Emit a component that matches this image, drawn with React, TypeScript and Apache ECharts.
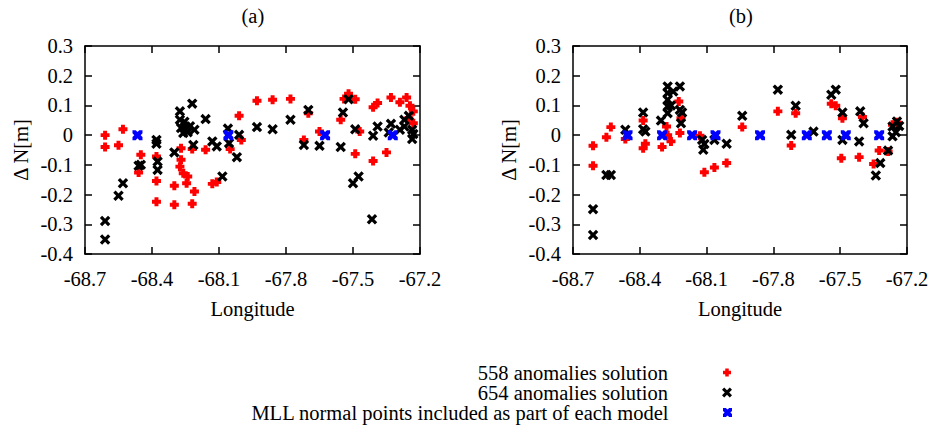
import React, { useEffect, useRef } from "react";
import * as echarts from "echarts";

// ---------- data ----------
const xTicks = ["-68.7", "-68.4", "-68.1", "-67.8", "-67.5", "-67.2"];
const yTicks = ["-0.4", "-0.3", "-0.2", "-0.1", "0", "0.1", "0.2", "0.3"];
const panelTitles = ["(a)", "(b)"];
const seriesNames = [
  "558 anomalies solution",
  "654 anomalies solution",
  "MLL normal points included as part of each model",
];

// panel (a) — 558 anomalies solution
const a558Lon = [-68.61, -68.61, -68.55, -68.53, -68.45, -68.46, -68.38, -68.38, -68.38, -68.3, -68.3, -68.27, -68.27, -68.275, -68.26, -68.24, -68.245, -68.22, -68.21, -68.22, -68.16, -68.13, -68.11, -68.05, -68.0, -68.01, -67.93, -67.86, -67.78, -67.7, -67.72, -67.65, -67.555, -67.54, -67.52, -67.49, -67.47, -67.49, -67.41, -67.41, -67.39, -67.35, -67.33, -67.29, -67.26, -67.245, -67.23, -67.23, -67.25];
const a558Dn = [0.0, -0.04, -0.034, 0.02, -0.066, -0.126, -0.072, -0.154, -0.224, -0.17, -0.234, -0.044, -0.083, -0.106, -0.128, -0.139, -0.162, -0.231, -0.19, -0.047, -0.049, -0.164, -0.158, -0.047, -0.016, 0.065, 0.116, 0.119, 0.122, 0.074, -0.016, 0.012, 0.052, 0.122, 0.139, 0.121, 0.012, -0.063, -0.087, 0.094, 0.108, -0.058, 0.127, 0.111, 0.127, 0.099, 0.08, 0.04, 0.057];

// panel (a) — 654 anomalies solution
const a654Lon = [-68.61, -68.61, -68.55, -68.53, -68.46, -68.45, -68.38, -68.38, -68.375, -68.375, -68.3, -68.275, -68.275, -68.27, -68.26, -68.25, -68.255, -68.24, -68.23, -68.22, -68.21, -68.215, -68.16, -68.13, -68.11, -68.085, -68.06, -68.055, -68.01, -68.02, -67.93, -67.86, -67.78, -67.7, -67.72, -67.65, -67.555, -67.545, -67.52, -67.49, -67.5, -67.475, -67.41, -67.415, -67.39, -67.33, -67.34, -67.29, -67.27, -67.25, -67.27, -67.235, -67.235, -67.23];
const a654Dn = [-0.289, -0.351, -0.204, -0.162, -0.103, -0.1, -0.016, -0.029, -0.089, -0.117, -0.058, 0.08, 0.052, 0.024, 0.007, 0.029, 0.045, 0.01, 0.03, 0.106, 0.018, -0.033, 0.054, -0.021, -0.038, -0.139, 0.022, -0.027, 0.001, -0.074, 0.027, 0.02, 0.052, 0.085, -0.033, -0.036, -0.04, 0.076, 0.121, 0.02, -0.162, -0.139, -0.002, -0.283, 0.029, 0.038, 0.009, 0.018, 0.052, 0.065, 0.029, 0.018, -0.013, 0.004];

// panel (a) — MLL normal points
const aMllLon = [-68.465, -68.058, -67.625, -67.322];
const aMllDn = [0, 0, 0, 0];

// panel (b) — 558 anomalies solution
const b558Lon = [-68.61, -68.61, -68.55, -68.53, -68.465, -68.385, -68.385, -68.375, -68.3, -68.28, -68.275, -68.26, -68.225, -68.22, -68.215, -68.13, -68.11, -68.065, -68.01, -67.94, -67.78, -67.72, -67.7, -67.54, -67.52, -67.49, -67.495, -67.415, -67.4, -67.35, -67.325, -67.285, -67.265, -67.245];
const b558Dn = [-0.036, -0.103, -0.007, 0.027, -0.013, 0.049, -0.044, -0.029, -0.04, 0.029, 0.0, -0.021, 0.113, 0.007, 0.057, -0.002, -0.125, -0.109, -0.094, 0.027, 0.08, -0.035, 0.074, 0.106, 0.099, 0.057, -0.078, -0.074, 0.061, -0.097, -0.052, -0.055, 0.035, 0.043];

// panel (b) — 654 anomalies solution
const b654Lon = [-68.61, -68.61, -68.55, -68.53, -68.465, -68.385, -68.385, -68.375, -68.305, -68.275, -68.275, -68.275, -68.275, -68.275, -68.25, -68.22, -68.22, -68.215, -68.21, -68.26, -68.12, -68.115, -68.11, -68.065, -68.01, -67.94, -67.78, -67.72, -67.7, -67.62, -67.54, -67.52, -67.49, -67.49, -67.41, -67.415, -67.395, -67.34, -67.32, -67.285, -67.265, -67.265, -67.245, -67.235, -67.25];
const b654Dn = [-0.249, -0.336, -0.134, -0.134, 0.018, 0.076, 0.02, 0.012, 0.049, 0.164, 0.142, 0.119, 0.097, 0.074, 0.147, 0.164, 0.085, 0.04, 0.076, 0.1, -0.016, -0.049, -0.03, -0.016, -0.029, 0.065, 0.153, 0.001, 0.099, 0.012, 0.136, 0.153, 0.076, -0.016, 0.08, -0.021, 0.04, -0.136, -0.094, -0.052, 0.029, -0.004, 0.046, 0.031, 0.01];

// panel (b) — MLL normal points
const bMllLon = [-68.455, -68.3, -68.165, -68.06, -67.86, -67.65, -67.56, -67.475, -67.325];
const bMllDn = [0, 0, 0, 0, 0, 0, 0, 0, 0];

// ---------- styles ----------
const FONT = "Liberation Serif";
const PLUS = "path://M2.8,0H7.2V2.8H10V7.2H7.2V10H2.8V7.2H0V2.8H2.8Z";
const CROSS = "path://M0,2.2L2.2,0L5,2.8L7.8,0L10,2.2L7.2,5L10,7.8L7.8,10L5,7.2L2.2,10L0,7.8L2.8,5Z";
const BOX = "path://M0,0H3.2L5,1.8L6.8,0H10V3.2L8.2,5L10,6.8V10H6.8L5,8.2L3.2,10H0V6.8L1.8,5L0,3.2Z";
const colors = ["#ff0000", "#000000", "#0000ff"];
const symbols = [PLUS, CROSS, BOX];
const sizes = [9, 10.5, 10];

const zip = (xs: number[], ys: number[]) => xs.map((x, i) => [x, ys[i]]);

const xMin = Number(xTicks[0]);
const xMax = Number(xTicks[xTicks.length - 1]);
const xStep = 0.3;
const yMin = Number(yTicks[0]);
const yMax = Number(yTicks[yTicks.length - 1]);
const yStep = 0.1;

const grids = [
  { left: 85, top: 46, width: 335, height: 208 },
  { left: 573, top: 46, width: 334, height: 208 },
];

function buildOption() {
  const line = { show: true, onZero: false, lineStyle: { color: "#000", width: 1.5 } };
  const tick = { show: true, inside: true, length: 7, lineStyle: { color: "#000", width: 1.5 } };
  const xAxis: any[] = [];
  const yAxis: any[] = [];
  grids.forEach((_, g) => {
    const xBase = {
      type: "value",
      gridIndex: g,
      min: xMin,
      max: xMax,
      interval: xStep,
      axisLine: line,
      axisTick: tick,
      splitLine: { show: false },
    };
    xAxis.push({
      ...xBase,
      position: "bottom",
      name: "Longitude",
      nameLocation: "middle",
      nameGap: 44,
      nameTextStyle: { fontFamily: FONT, fontSize: 20.5, color: "#000" },
      axisLabel: {
        margin: 14,
        fontFamily: FONT,
        fontSize: 20.5,
        color: "#000",
        formatter: (v: number) => v.toFixed(1),
      },
    });
    xAxis.push({ ...xBase, position: "top", axisLabel: { show: false } });
    const yBase = {
      type: "value",
      gridIndex: g,
      min: yMin,
      max: yMax,
      interval: yStep,
      axisLine: line,
      axisTick: tick,
      splitLine: { show: false },
    };
    yAxis.push({
      ...yBase,
      position: "left",
      name: "Δ N[m]",
      nameLocation: "middle",
      nameRotate: 90,
      nameGap: 54,
      nameTextStyle: { fontFamily: FONT, fontSize: 20.5, color: "#000" },
      axisLabel: {
        margin: 12,
        fontFamily: FONT,
        fontSize: 20.5,
        color: "#000",
        formatter: (v: number) => String(Math.round(v * 10) / 10),
      },
    });
    yAxis.push({ ...yBase, position: "right", axisLabel: { show: false } });
  });

  const panels = [
    [zip(a558Lon, a558Dn), zip(a654Lon, a654Dn), zip(aMllLon, aMllDn)],
    [zip(b558Lon, b558Dn), zip(b654Lon, b654Dn), zip(bMllLon, bMllDn)],
  ];
  const series: any[] = [];
  panels.forEach((sets, g) => {
    sets.forEach((data, k) => {
      series.push({
        type: "scatter",
        name: seriesNames[k],
        xAxisIndex: g * 2,
        yAxisIndex: g * 2,
        data,
        symbol: symbols[k],
        symbolSize: sizes[k],
        itemStyle: { color: colors[k], opacity: 1 },
        emphasis: { disabled: true },
        z: 2 + k,
      });
    });
  });

  const legendTops = [362, 382, 402];
  const legendHeights = [8, 10, 9];
  const legendRights = [205, 204, 204];
  const legend = seriesNames.map((n, k) => ({
    data: [{ name: n, icon: symbols[k] }],
    orient: "vertical",
    align: "right",
    right: legendRights[k],
    top: legendTops[k],
    padding: 0,
    itemWidth: 108,
    itemHeight: legendHeights[k],
    selectedMode: false,
    textStyle: { fontFamily: FONT, fontSize: 20.5, color: "#000", lineHeight: 20 },
  }));

  const graphic = panelTitles.map((t, g) => ({
    type: "text",
    left: grids[g].left + grids[g].width / 2 - 11,
    top: 5,
    style: { text: t, fontFamily: FONT, fontSize: 20.5, fill: "#000" },
  }));

  return {
    animation: false,
    backgroundColor: "#ffffff",
    grid: grids,
    xAxis,
    yAxis,
    series,
    legend,
    graphic,
  };
}

export default function App() {
  const ref = useRef<HTMLDivElement>(null);
  useEffect(() => {
    if (!ref.current) return;
    const chart = echarts.init(ref.current, undefined, { renderer: "svg" });
    chart.setOption(buildOption() as any);
    return () => chart.dispose();
  }, []);
  return (
    <div
      ref={ref}
      style={{ position: "fixed", left: 0, top: 0, width: 936, height: 426, background: "#fff" }}
    />
  );
}
